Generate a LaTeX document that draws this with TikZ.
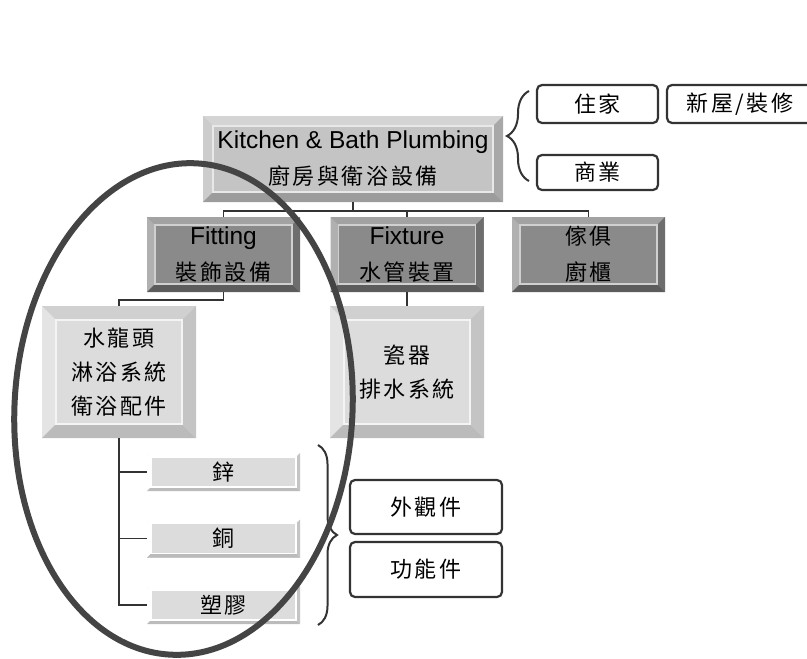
\documentclass[tikz,border=0pt]{standalone}
\usepackage{fontspec}
\setmainfont{Liberation Sans}
\newfontfamily\cjk[LetterSpace=12]{Noto Sans CJK TC}
\usetikzlibrary{decorations.pathreplacing}

\definecolor{ink}{HTML}{333333}
\definecolor{ringgray}{HTML}{444444}
\definecolor{mainface}{HTML}{C4C4C4}
\definecolor{maintop}{HTML}{D4D4D4}
\definecolor{mainleft}{HTML}{CCCCCC}
\definecolor{mainbot}{HTML}{9C9C9C}
\definecolor{mainright}{HTML}{A8A8A8}
\definecolor{mainrim}{HTML}{E8E8E8}
\definecolor{darkface}{HTML}{8A8A8A}
\definecolor{darktop}{HTML}{A2A2A2}
\definecolor{darkleft}{HTML}{B0B0B0}
\definecolor{darkbot}{HTML}{5C5C5C}
\definecolor{darkright}{HTML}{6E6E6E}
\definecolor{darkrim}{HTML}{D0D0D0}
\definecolor{lightface}{HTML}{DCDCDC}
\definecolor{lighttop}{HTML}{D0D0D0}
\definecolor{lightleft}{HTML}{E4E4E4}
\definecolor{lightbot}{HTML}{BBBBBB}
\definecolor{lightright}{HTML}{C4C4C4}
\definecolor{lightrim}{HTML}{F4F4F4}

\newcommand{\zh}[1]{{\cjk\fontsize{22}{36}\selectfont #1}}

\begin{document}
\begin{tikzpicture}[x=1pt,y=-1pt,
	bevel/.style args={#1/#2/#3/#4/#5/#6/#7}{rectangle,inner sep=0pt,outer sep=0pt,fill=#2,align=center,
		font=\fontsize{24.5}{36}\selectfont,
		path picture={
			\coordinate (bnw) at (path picture bounding box.north west);
			\coordinate (bne) at (path picture bounding box.north east);
			\coordinate (bsw) at (path picture bounding box.south west);
			\coordinate (bse) at (path picture bounding box.south east);
			\fill [#3] (bnw) -- (bne) -- ([xshift=-#1,yshift=-#1]bne) -- ([xshift=#1,yshift=-#1]bnw) -- cycle;
			\fill [#4] (bnw) -- ([xshift=#1,yshift=-#1]bnw) -- ([xshift=#1,yshift=#1]bsw) -- (bsw) -- cycle;
			\fill [#5] (bsw) -- ([xshift=#1,yshift=#1]bsw) -- ([xshift=-#1,yshift=#1]bse) -- (bse) -- cycle;
			\fill [#6] (bne) -- (bse) -- ([xshift=-#1,yshift=#1]bse) -- ([xshift=-#1,yshift=-#1]bne) -- cycle;
			\draw [#7,line width=1.5pt] ([xshift=#1,yshift=-#1]bnw) rectangle ([xshift=-#1,yshift=#1]bse);
		}},
	mainbox/.style={bevel=10pt/mainface/maintop/mainleft/mainbot/mainright/mainrim,minimum width=300pt,minimum height=86pt},
	darkbox/.style={bevel=8pt/darkface/darktop/darkleft/darkbot/darkright/darkrim,minimum width=153pt,minimum height=75pt},
	lightbox/.style={bevel=14pt/lightface/lighttop/lightleft/lightbot/lightright/lightrim,minimum width=154pt,minimum height=132pt,
		font=\cjk\fontsize{22}{34}\selectfont},
	barbox/.style={bevel=4pt/lightface/white/white/lightbot/lightright/white,minimum width=153pt,minimum height=38pt,
		font=\cjk\fontsize{22}{26}\selectfont},
	tagbox/.style={draw=ink,line width=2.2pt,rounded corners=5pt,fill=white,inner sep=0pt,
		font=\cjk\fontsize{22}{26}\selectfont},
	link/.style={draw=ink,line width=1.4pt},
	curly/.style={draw=ink,line width=2pt,decorate,decoration={brace,amplitude=#1}},
	ring/.style={draw=ringgray,line width=6pt}]

\fill [white] (0,0) rectangle (807,659);
\useasboundingbox (0,0) rectangle (807,659);

\node [mainbox] (plumbing) at (353,159) {Kitchen \& Bath Plumbing\\\zh{廚房與衛浴設備}};

\node [tagbox,minimum width=121pt,minimum height=38pt] (home) at (597.5,104) {住家};
\node [tagbox,minimum width=146pt,minimum height=38pt] (renovate) at (740,104) {新屋/裝修};
\node [tagbox,minimum width=121pt,minimum height=35pt] (commerce) at (597.5,172.5) {商業};

\node [darkbox] (fitting) at (223.5,254.5) {Fitting\\\zh{裝飾設備}};
\node [darkbox] (fixture) at (407,254.5) {Fixture\\\zh{水管裝置}};
\node [darkbox] (furniture) at (588.5,254.5) {\zh{傢俱}\\\zh{廚櫃}};

\node [lightbox] (faucet) at (119,372) {水龍頭\\淋浴系統\\衛浴配件};
\node [lightbox] (ceramic) at (407,372) {瓷器\\排水系統};

\node [barbox] (zinc) at (223.5,472) {鋅};
\node [barbox] (copper) at (223.5,538.5) {銅};
\node [barbox] (plastic) at (223.5,605) {塑膠};

\node [tagbox,minimum width=152pt,minimum height=54pt] (exterior) at (426,507) {外觀件};
\node [tagbox,minimum width=152pt,minimum height=55pt] (function) at (426,569.5) {功能件};

\foreach \n in {fitting,fixture,furniture} {
	\draw [link] (plumbing.south) -- ++(0,9) -| (\n.north);
}
\draw [link] (fitting.south) -- ++(0,8) -| (faucet.north);
\draw [link] (fixture.south) -- (ceramic.north);
\foreach \n in {zinc,copper,plastic} {
	\draw [link] (faucet.south) |- (\n.west);
}

\draw [curly=22pt] (529,181) -- (529,91);
\draw [curly=19pt] (318,445) -- (318,625);

\draw [ring,rotate around={-3:(183.5,409)}] (183.5,409) ellipse [x radius=169pt,y radius=246pt];

\end{tikzpicture}
\end{document}
